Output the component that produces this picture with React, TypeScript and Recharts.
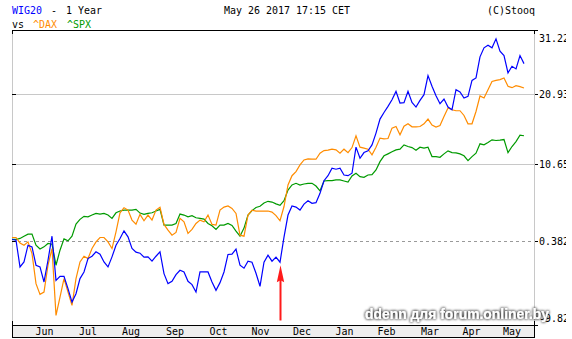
import { LineChart, Line, XAxis, YAxis, CartesianGrid, ReferenceLine } from "recharts"

// trading-session index (x) of each sampled point
const SESSIONS = [
    0, 2, 4, 6, 8, 10, 12, 14, 16, 18,
    20, 22, 24, 26, 28, 30, 32, 34, 36, 38,
    40, 42, 44, 46, 48, 50, 52, 54, 56, 58,
    60, 62, 64, 66, 68, 70, 72, 74, 76, 78,
    80, 82, 84, 86, 88, 90, 92, 94, 96, 98,
    100, 102, 104, 106, 108, 110, 112, 114, 116, 118,
    120, 122, 124, 126, 128, 130, 132, 134, 136, 138,
    140, 142, 144, 146, 148, 150, 152, 154, 156, 158,
    160, 162, 164, 166, 168, 170, 172, 174, 176, 178,
    180, 182, 184, 186, 188, 190, 192, 194, 196, 198,
    200, 202, 204, 206, 208, 210, 212, 214, 216, 218,
    220, 222, 224, 226, 228, 230, 232, 234, 236, 238,
    240, 242, 244, 246, 248, 250, 252, 254, 256,
]

// % change since May 26 2016
const WIG20 = [
    0.54, 0.45, -2.91, -2.29, -0.19, -0.4, -2.7, -2.91, -4.75, -2.08,
    0.96, -4.55, -4.06, -4.06, -5.55, -7.15, -6.16, -4.34, -3.53, -1.87,
    -1.58, -1.03, -1.32, -2.29, -2.91, -1.66, -0.19, 0.67, 1.65, 0.87,
    -0.61, -1.07, -1.2, -1.7, -1.66, -2.2, -1.58, -1.03, -3.73, -4.95,
    -4.67, -3.85, -3.32, -3.53, -4.67, -5.07, -5.96, -3.53, -3.53, -3.53,
    -4.75, -5.76, -4.83, -3.53, -1.36, -1.32, -0.69, -2.7, -3.07, -2.2,
    -2.33, -3.69, -5.27, -2.33, -1.45, -2.2, -1.7, -2.33, 0.83, 3.71,
    4.91, 4.77, 4.37, 5.17, 5.62, 5.27, 5.35, 6.61, 8.34, 9.03,
    10.07, 9.93, 10.07, 9.13, 9.03, 9.37, 13.06, 11.48, 12.29, 12.53,
    13.39, 15.1, 17.17, 18.16, 19.07, 20.09, 21.37, 19.59, 19.64, 21.37,
    19.68, 18.97, 19.98, 20.86, 23.82, 22.15, 20.71, 19.48, 20.2, 18.97,
    18.57, 21.63, 21.27, 20.35, 20.6, 23.08, 23.46, 26.82, 28.28, 28.7,
    28.28, 29.75, 27.72, 27.03, 24.25, 25.31, 24.89, 27.03, 25.73,
]

const DAX = [
    0.79, 0.79, 0.1, -0.19, 0.23, -1.24, -4.95, -6.24, -5.96, -2.7,
    -0.61, -8.71, -6.56, -4.34, -5.96, -7.54, -4.34, -2.29, -1.58, -1.87,
    -0.61, 0.23, 0.79, 0.79, 0.23, -0.61, 1.52, 4.01, 4.68, 4.37,
    3.05, 2.52, 3.8, 2.96, 3.71, 3.05, 4.37, 4.73, 2.48, 1.74,
    1.09, 1.44, 3.27, 2.83, 1.31, 1.83, 2.61, 3.05, 2.83, 3.71,
    2.48, 2.39, 4.37, 4.77, 4.91, 4.59, 3.93, 1.09, 0.96, 3.71,
    4.37, 4.24, 4.24, 4.24, 4.24, 4.1, 3.64, 2.96, 4.84, 7.75,
    9.03, 9.59, 10.54, 11.24, 11.38, 11.34, 11.34, 12.2, 12.57, 12.63,
    12.77, 12.67, 12.2, 12.77, 12.28, 13.0, 14.7, 13.06, 12.92, 12.77,
    11.96, 13.06, 14.37, 14.26, 14.31, 15.83, 16.07, 14.85, 16.1, 16.47,
    16.02, 16.02, 16.07, 16.47, 17.17, 16.28, 15.98, 16.22, 17.56, 18.83,
    18.57, 18.42, 18.42, 17.71, 16.47, 16.47, 18.31, 20.66, 20.35, 21.63,
    22.92, 23.08, 23.19, 23.46, 22.15, 21.94, 22.25, 22.1, 21.9,
]

const SPX = [
    0.54, 0.54, 0.67, 0.96, 1.22, 1.22, -0.19, -0.66, -0.4, 0.03,
    -0.06, -2.7, -0.82, 0.61, 0.36, 0.96, 2.52, 3.14, 3.54, 3.48,
    3.71, 3.93, 3.84, 3.93, 3.71, 3.27, 4.01, 4.24, 4.37, 4.37,
    4.37, 4.46, 3.97, 3.8, 3.93, 4.01, 4.24, 4.46, 2.39, 2.39,
    2.39, 2.61, 3.84, 3.71, 3.48, 3.62, 3.35, 3.27, 3.18, 2.61,
    2.3, 1.83, 2.39, 2.39, 2.61, 2.35, 1.61, 0.96, 2.0, 3.71,
    4.3, 4.71, 4.87, 5.31, 5.54, 5.44, 5.2, 5.0, 5.62, 7.06,
    7.75, 7.98, 7.75, 7.89, 7.98, 7.98, 7.61, 6.96, 8.3, 8.34,
    8.34, 8.44, 8.44, 8.3, 8.16, 8.99, 9.37, 8.9, 8.81, 9.13,
    9.17, 9.83, 11.0, 11.82, 12.1, 12.39, 12.67, 12.77, 13.39, 13.15,
    13.0, 12.63, 13.06, 12.92, 13.06, 11.71, 11.71, 11.62, 12.1, 12.53,
    12.28, 12.24, 12.1, 11.82, 11.14, 11.71, 12.2, 13.54, 13.39, 13.73,
    14.12, 14.02, 14.07, 14.16, 12.28, 13.15, 13.87, 14.81, 14.71,
]

const MONTH_STARTS = [5, 27.5, 48.5, 70.5, 92.5, 114, 134.5, 155.5, 177, 197.5, 220.5, 239]
const MONTH_NAMES = ["Jun", "Jul", "Aug", "Sep", "Oct", "Nov", "Dec", "Jan", "Feb", "Mar", "Apr", "May"]
const SESSION_END = 261

const Y_TICKS = [-9.82, 0.382, 10.65, 20.93, 31.22]
const Y_TICK_LABELS = ["-9.82", "0.382", "10.65", "20.93", "31.22"]

// red arrow under the late-November jump
const ARROW_SESSION = 134
const ARROW_FROM = -9.3
const ARROW_TO = -2.7

const BASE = 100
const MONO = '"DejaVu Sans Mono", monospace'
const PLOT_TOP = 30
const PLOT_BOTTOM = 325

const rows = SESSIONS.map((s, i) => ({ s, wig: BASE + WIG20[i], dax: BASE + DAX[i], spx: BASE + SPX[i] }))
const monthMids = MONTH_STARTS.map((m, i) => (m + (MONTH_STARTS[i + 1] ?? SESSION_END)) / 2)

function MonoText({ x, y, text, fill = "#000", anchor = "start" }: any) {
    return (
        <text x={x} y={y} fill={fill} fontFamily={MONO} fontSize={11} textAnchor={anchor}
            textLength={text.length * 6} lengthAdjust="spacingAndGlyphs">
            {text}
        </text>
    )
}

const vGrid = (p: any) => {
    const x = Math.round(p.x1) + 0.5
    return (
        <g key={p.key}>
            <line x1={x} x2={x} y1={p.y1 + 4} y2={p.y2 - 4} stroke="#c8c8c8" />
            <line x1={x} x2={x} y1={p.y1} y2={p.y1 + 4} stroke="#000" />
            <line x1={x} x2={x} y1={p.y2 - 4} y2={p.y2} stroke="#000" />
        </g>
    )
}

const hGrid = (dashed: boolean) => (p: any) => {
    const y = Math.round(p.y1) + 0.5
    const left = Math.min(p.x1, p.x2)
    const right = Math.max(p.x1, p.x2)
    return (
        <g>
            <line x1={left} x2={right} y1={y} y2={y} stroke={dashed ? "#9a9a9a" : "#c8c8c8"}
                strokeDasharray={dashed ? "3 3" : undefined} />
            <line x1={left} x2={left + 4} y1={y} y2={y} stroke="#000" />
        </g>
    )
}

const arrowShape = (p: any) => {
    const x = Math.round(p.x1) + 0.5
    const yb = Math.max(p.y1, p.y2)
    const yt = Math.min(p.y1, p.y2)
    return (
        <g>
            <line x1={x} x2={x} y1={yb} y2={yt + 14} stroke="#ff1a1a" strokeWidth={2} />
            <polygon points={`${x},${yt} ${x - 3.7},${yt + 17} ${x},${yt + 15} ${x + 3.7},${yt + 17}`} fill="#ff1a1a" />
        </g>
    )
}

const yTick = (p: any) => {
    const i = Y_TICKS.findIndex((t) => Math.abs(BASE + t - p.payload.value) < 1e-6)
    const ty = Math.min(Math.max(p.y, PLOT_TOP + 7.5), PLOT_BOTTOM - 7.5)
    const y0 = Math.round(p.y) + 0.5
    return (
        <g>
            <line x1={p.x - 4} x2={p.x - 1} y1={y0} y2={y0} stroke="#000" />
            <MonoText x={p.x} y={ty + 4} text={Y_TICK_LABELS[i] ?? ""} />
        </g>
    )
}

const monthTick = (p: any) => {
    const i = monthMids.findIndex((m) => Math.abs(m - p.payload.value) < 1e-6)
    return <MonoText x={p.x} y={p.y + 9.5} text={MONTH_NAMES[i] ?? ""} anchor="middle" />
}

export default function App() {
    return (
        <div style={{ position: "absolute", left: 0, top: 0, width: 566, height: 339, overflow: "hidden", background: "#fff" }}>
            <div style={{ position: "absolute", left: 12, top: 325, width: 523, height: 13, background: "#eeeeee", borderTop: "1px solid #000", boxSizing: "border-box" }} />
            <div style={{ position: "absolute", left: 12, top: 30, width: 523, height: 308, border: "1px solid #000", boxSizing: "border-box" }} />
            <div style={{ position: "absolute", left: 0, top: 0 }}>
                <LineChart width={572} height={339} data={rows} margin={{ top: PLOT_TOP, right: 0, bottom: 0, left: 12 }}>
                    <XAxis xAxisId="g" dataKey="s" type="number" domain={[0, SESSION_END]} ticks={MONTH_STARTS}
                        height={0} tick={false} tickLine={false} axisLine={false} allowDataOverflow />
                    <XAxis xAxisId="lab" dataKey="s" type="number" domain={[0, SESSION_END]} ticks={monthMids}
                        height={14} interval={0} tickLine={false} axisLine={false} tickSize={0} tickMargin={0}
                        tick={monthTick} allowDataOverflow />
                    <YAxis orientation="right" type="number" scale="log" width={38}
                        domain={[BASE + Y_TICKS[0], BASE + Y_TICKS[Y_TICKS.length - 1]]}
                        ticks={Y_TICKS.map((t) => BASE + t)} interval={0} allowDataOverflow
                        axisLine={false} tickLine={false} tickSize={4} tickMargin={1} tick={yTick} />
                    <CartesianGrid xAxisId="g" horizontal={false} vertical={vGrid} />
                    {Y_TICKS.slice(1, -1).map((t) => (
                        <ReferenceLine key={t} xAxisId="g" y={BASE + t} shape={hGrid(Math.abs(t) < 1)} />
                    ))}
                    <ReferenceLine xAxisId="g"
                        segment={[{ x: ARROW_SESSION, y: BASE + ARROW_FROM }, { x: ARROW_SESSION, y: BASE + ARROW_TO }]}
                        shape={arrowShape} />
                    <Line xAxisId="g" type="linear" dataKey="spx" stroke="#009a00" strokeWidth={1.2} dot={false} isAnimationActive={false} />
                    <Line xAxisId="g" type="linear" dataKey="dax" stroke="#ff8c00" strokeWidth={1.2} dot={false} isAnimationActive={false} />
                    <Line xAxisId="g" type="linear" dataKey="wig" stroke="#0000ff" strokeWidth={1.2} dot={false} isAnimationActive={false} />
                </LineChart>
            </div>
            <svg width={572} height={339} style={{ position: "absolute", left: 0, top: 0, pointerEvents: "none" }}>
                <defs>
                    <filter id="wm" x="-10%" y="-60%" width="120%" height="220%">
                        <feGaussianBlur in="SourceAlpha" stdDeviation="1.6" result="b" />
                        <feFlood floodColor="#1e1e1e" floodOpacity="0.85" />
                        <feComposite in2="b" operator="in" result="s" />
                        <feMerge>
                            <feMergeNode in="s" />
                            <feMergeNode in="s" />
                            <feMergeNode in="SourceGraphic" />
                        </feMerge>
                    </filter>
                </defs>
                <MonoText x={12} y={14} text="WIG20" fill="#0000ff" />
                <MonoText x={51} y={14} text="-" />
                <MonoText x={66} y={14} text="1 Year" />
                <MonoText x={224} y={14} text="May 26 2017 17:15 CET" />
                <MonoText x={535} y={14} text="(C)Stooq" anchor="end" />
                <MonoText x={12} y={28} text="vs" />
                <MonoText x={33} y={28} text="^DAX" fill="#ff8c00" />
                <MonoText x={67} y={28} text="^SPX" fill="#009a00" />
                <text x={365} y={319} fill="#fff" fontFamily='"Liberation Sans", Arial, sans-serif' fontWeight="bold"
                    fontSize={15} textLength={184} lengthAdjust="spacingAndGlyphs" filter="url(#wm)">
                    ddenn для forum.onliner.by
                </text>
            </svg>
        </div>
    )
}
